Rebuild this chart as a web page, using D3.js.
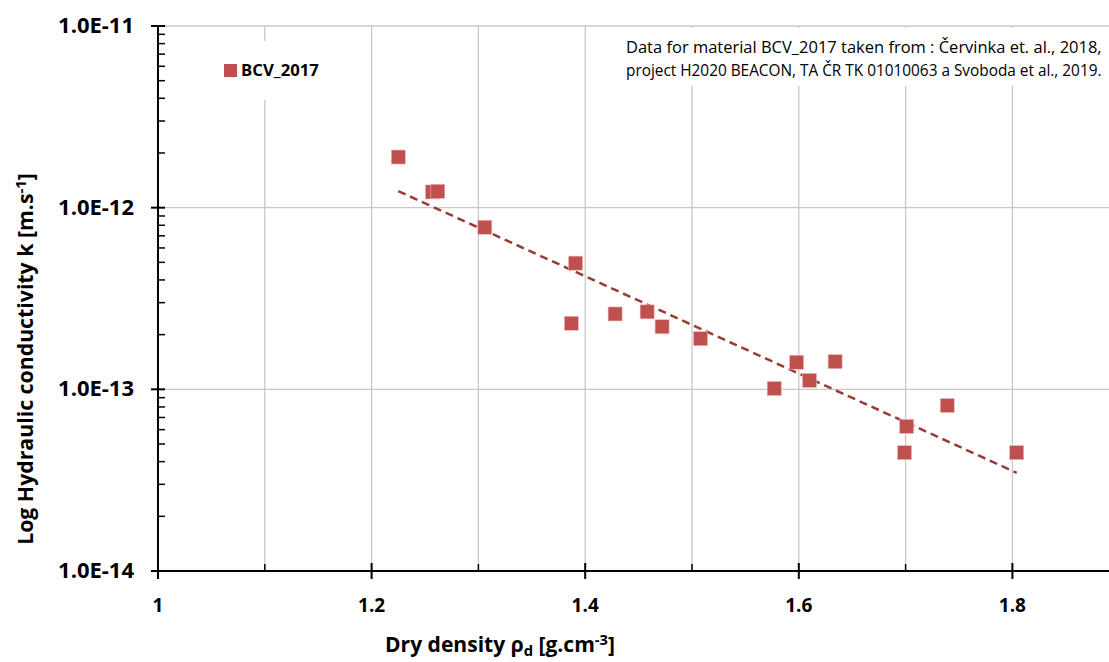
<!DOCTYPE html>
<html>
<head>
<meta charset="utf-8">
<script src="https://cdn.jsdelivr.net/npm/d3@7"></script>
<style>
  body { margin: 0; background: #fff; }
  svg { display: block; font-family: "Open Sans", sans-serif; }
</style>
</head>
<body>
<div id="chart"></div>
<script>
// dry density [g.cm-3] and hydraulic conductivity [m.s-1], material BCV_2017
var density = [1.225, 1.257, 1.262, 1.306, 1.391, 1.387, 1.428, 1.458, 1.472, 1.508,
               1.577, 1.598, 1.610, 1.634, 1.699, 1.701, 1.739, 1.804];
var conductivity = [1.90e-12, 1.22e-12, 1.23e-12, 7.8e-13, 4.95e-13, 2.31e-13, 2.60e-13, 2.67e-13, 2.21e-13, 1.90e-13,
                    1.01e-13, 1.41e-13, 1.12e-13, 1.42e-13, 4.48e-14, 6.25e-14, 8.15e-14, 4.48e-14];
var seriesName = "BCV_2017";
var xTicks = [1, 1.2, 1.4, 1.6, 1.8];
var xMinorTicks = [1.1, 1.3, 1.5, 1.7];
var yTicks = [1e-11, 1e-12, 1e-13, 1e-14];
var yTickLabels = ["1.0E-11", "1.0E-12", "1.0E-13", "1.0E-14"];
var noteLines = ["Data for material BCV_2017 taken from : Červinka et. al., 2018,",
                 "project H2020 BEACON, TA ČR TK 01010063 a Svoboda et al., 2019."];

var width = 1109, height = 662;
var margin = {top: 26, right: 0, bottom: 91, left: 158};
var red = "#c0504d", darkRed = "#983a37", grid = "#c8c8c8";

var x = d3.scaleLinear().domain([1, 1.9]).range([margin.left, margin.left + 9 * 106.8]);
var y = d3.scaleLog().domain([1e-14, 1e-11]).range([height - margin.bottom, margin.top]);

var svg = d3.select("#chart").append("svg")
    .attr("width", width)
    .attr("height", height);

// scale a text's font so it spans the wanted width
function fit(sel, w) {
  sel.each(function() {
    var fs = parseFloat(d3.select(this).attr("font-size"));
    var len = this.getComputedTextLength();
    if (len > 0) d3.select(this).attr("font-size", fs * w / len);
  });
}

// grid
var xGrid = d3.range(1.1, 1.95, 0.1);
svg.append("g").selectAll("line").data(xGrid)
  .enter().append("line")
    .attr("x1", d => x(d)).attr("x2", d => x(d))
    .attr("y1", y(1e-11)).attr("y2", y(1e-14))
    .attr("stroke", grid).attr("stroke-width", 1.3);

svg.append("g").selectAll("line").data(yTicks.slice(0, 3))
  .enter().append("line")
    .attr("x1", x(1)).attr("x2", width)
    .attr("y1", d => y(d)).attr("y2", d => y(d))
    .attr("stroke", grid).attr("stroke-width", 1.3);

// legend and note backgrounds cover the grid
svg.append("rect").attr("x", 210).attr("y", 41).attr("width", 125).attr("height", 59).attr("fill", "#fff");
svg.append("rect").attr("x", 612).attr("y", 28).attr("width", width - 612).attr("height", 58).attr("fill", "#fff");

// axes
var yAxis = svg.append("g").attr("transform", "translate(" + x(1) + ",0)");
yAxis.append("line").attr("y1", y(1e-11)).attr("y2", y(1e-14)).attr("stroke", "#000").attr("stroke-width", 2);
var minor = [];
yTicks.slice(1).forEach(function(t) { d3.range(2, 10).forEach(function(m) { minor.push(t * m); }); });
yAxis.selectAll(".minor").data(minor)
  .enter().append("line")
    .attr("x1", 0).attr("x2", 7)
    .attr("y1", d => y(d)).attr("y2", d => y(d))
    .attr("stroke", "#000").attr("stroke-width", 1.5);
yAxis.selectAll(".major").data(yTicks)
  .enter().append("line")
    .attr("x1", -7).attr("x2", 7)
    .attr("y1", d => y(d)).attr("y2", d => y(d))
    .attr("stroke", "#000").attr("stroke-width", 2);
yAxis.selectAll("text").data(yTicks)
  .enter().append("text")
    .attr("x", -24).attr("y", d => y(d) + 7)
    .attr("text-anchor", "end")
    .attr("font-size", 20).attr("font-weight", "bold")
    .text((d, i) => yTickLabels[i])
    .call(fit, 76);

var xAxis = svg.append("g").attr("transform", "translate(0," + y(1e-14) + ")");
xAxis.append("line").attr("x1", x(1) - 1).attr("x2", width).attr("stroke", "#000").attr("stroke-width", 2);
xAxis.selectAll(".major").data(xTicks)
  .enter().append("line")
    .attr("x1", d => x(d)).attr("x2", d => x(d))
    .attr("y1", -8).attr("y2", 8)
    .attr("stroke", "#000").attr("stroke-width", 2);
xAxis.selectAll(".minor").data(xMinorTicks)
  .enter().append("line")
    .attr("x1", d => x(d)).attr("x2", d => x(d))
    .attr("y1", -7).attr("y2", 0)
    .attr("stroke", "#000").attr("stroke-width", 1.5);
xAxis.selectAll("text").data(xTicks)
  .enter().append("text")
    .attr("x", d => x(d)).attr("y", 41)
    .attr("text-anchor", "middle")
    .attr("font-size", 19).attr("font-weight", "bold")
    .text(d => d3.format("")(d));

// axis titles
var xt = svg.append("text")
    .attr("x", 500).attr("y", 652)
    .attr("text-anchor", "middle")
    .attr("font-size", 19).attr("font-weight", "bold");
xt.append("tspan").text("Dry density ρ");
xt.append("tspan").attr("font-size", "0.7em").attr("dy", 4).text("d");
xt.append("tspan").attr("dy", -4).text(" [g.cm");
xt.append("tspan").attr("font-size", "0.7em").attr("dy", -7).text("-3");
xt.append("tspan").attr("dy", 7).text("]");
xt.call(fit, 230);

var yt = svg.append("text")
    .attr("transform", "translate(33,359) rotate(-90)")
    .attr("text-anchor", "middle")
    .attr("font-size", 19).attr("font-weight", "bold");
yt.append("tspan").text("Log Hydraulic conductivity k [m.s");
yt.append("tspan").attr("font-size", "0.7em").attr("dy", -7).text("-1");
yt.append("tspan").attr("dy", 7).text("]");
yt.call(fit, 372);

// trend line: exponential fit, i.e. linear fit of log10(k) on density
var pts = density.map((d, i) => [d, Math.log10(conductivity[i])]);
var mx = d3.mean(pts, p => p[0]), my = d3.mean(pts, p => p[1]);
var slope = d3.sum(pts, p => (p[0] - mx) * (p[1] - my)) / d3.sum(pts, p => (p[0] - mx) * (p[0] - mx));
var icpt = my - slope * mx;
var ext = d3.extent(density);
var trend = ext.map(d => [d, Math.pow(10, icpt + slope * d)]);

svg.append("path")
    .datum(trend)
    .attr("d", d3.line().x(d => x(d[0])).y(d => y(d[1])))
    .attr("fill", "none")
    .attr("stroke", darkRed)
    .attr("stroke-width", 2.5)
    .attr("stroke-dasharray", "8,5");

// points
svg.append("g").selectAll("rect").data(density)
  .enter().append("rect")
    .attr("x", (d, i) => x(d) - 7)
    .attr("y", (d, i) => y(conductivity[i]) - 7)
    .attr("width", 14).attr("height", 14)
    .attr("fill", red)
    .attr("stroke", "#e8b8b6").attr("stroke-width", 0.6);

// legend
svg.append("rect").attr("x", 224).attr("y", 64).attr("width", 13).attr("height", 13).attr("fill", red);
svg.append("text")
    .attr("x", 241).attr("y", 76)
    .attr("font-size", 16).attr("font-weight", "bold")
    .text(seriesName)
    .call(fit, 78);

// source note
svg.append("g").selectAll("text").data(noteLines)
  .enter().append("text")
    .attr("x", 626).attr("y", (d, i) => 53 + i * 23)
    .attr("font-size", 14)
    .text(d => d)
    .call(fit, 476);
</script>
</body>
</html>
